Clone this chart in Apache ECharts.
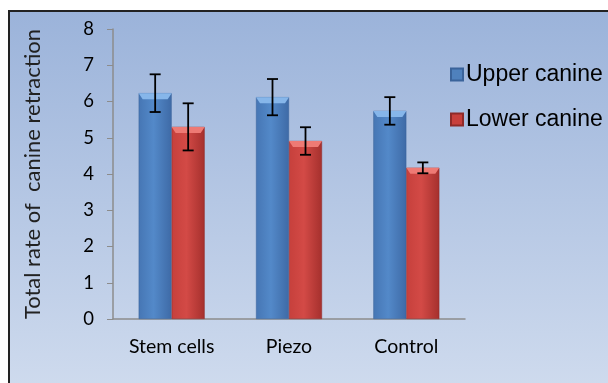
<!DOCTYPE html>
<html><head><meta charset="utf-8">
<script src="https://cdn.jsdelivr.net/npm/echarts@6/dist/echarts.min.js"></script>
<style>html,body{margin:0;padding:0;background:#fff;}#c{width:608px;height:383px;}</style>
</head><body><div id="c"></div>
<script>
const categories = ['Stem cells', 'Piezo', 'Control'];
const seriesNames = ['Upper canine', 'Lower canine'];
const upperValues = [6.23, 6.12, 5.74];
const lowerValues = [5.30, 4.91, 4.17];
const upperErrors = [0.52, 0.50, 0.38];
const lowerErrors = [0.65, 0.38, 0.15];
const yTicks = [0, 1, 2, 3, 4, 5, 6, 7, 8];

const chart = echarts.init(document.getElementById('c'));
const BW = 33;

function barGrad(c1, c2, c3) {
  return new echarts.graphic.LinearGradient(0, 0, 1, 0, [
    {offset: 0, color: c1}, {offset: 0.45, color: c2}, {offset: 1, color: c3}
  ]);
}
const blueFill = barGrad('#4676b4', '#5389c9', '#3e6aa6');
const redFill = barGrad('#c6403c', '#d34a46', '#a5302d');

function errorSeries(vals, errs, side) {
  return {
    type: 'custom',
    z: 5,
    silent: true,
    data: vals.map((v, i) => [i, v, errs[i]]),
    renderItem: function (params, api) {
      const i = api.value(0), v = api.value(1), e = api.value(2);
      const top = api.coord([i, v]);
      const cx = top[0] + side * BW / 2;
      const hi = api.coord([i, v + e])[1];
      const lo = api.coord([i, v - e])[1];
      const x0 = cx - BW / 2, x1 = cx + BW / 2;
      const capCol = side < 0 ? '#86b6ea' : '#ee7a74';
      return {
        type: 'group',
        children: [
          {type: 'polygon', shape: {points: [[x0, top[1]], [x1, top[1]], [x1 - 4, top[1] + 6], [x0 + 4, top[1] + 6]]},
           style: {fill: capCol}},
          {type: 'line', shape: {x1: cx, y1: hi, x2: cx, y2: lo}, style: {stroke: '#000', lineWidth: 1.8}},
          {type: 'line', shape: {x1: cx - 5.5, y1: hi, x2: cx + 5.5, y2: hi}, style: {stroke: '#000', lineWidth: 1.8}},
          {type: 'line', shape: {x1: cx - 5.5, y1: lo, x2: cx + 5.5, y2: lo}, style: {stroke: '#000', lineWidth: 1.8}}
        ]
      };
    }
  };
}

const option = {
  animation: false,
  graphic: [
    {type: 'rect', z: -10, shape: {x: 9, y: 11, width: 610, height: 380},
     style: {fill: new echarts.graphic.LinearGradient(0, 0, 0, 1, [
       {offset: 0, color: '#9bb3da'}, {offset: 1, color: '#cfdbee'}]), stroke: '#222', lineWidth: 2}}
  ],
  grid: {left: 113, right: 143, top: 29, bottom: 64},
  legend: {
    orient: 'vertical', left: 445, top: 58, itemGap: 22, itemWidth: 12, itemHeight: 12, icon: 'rect',
    textStyle: {fontFamily: 'Liberation Sans', fontSize: 23, color: '#000', padding: [0, 0, 0, -2]},
    data: seriesNames
  },
  xAxis: {
    type: 'category', data: categories,
    axisLine: {lineStyle: {color: '#8c8c8c', width: 1.5}},
    axisTick: {show: false},
    axisLabel: {fontFamily: 'Lato', fontSize: 19.5, color: '#000', margin: 18}
  },
  yAxis: {
    type: 'value', min: 0, max: 8, interval: 1,
    name: 'Total rate of  canine retraction', nameLocation: 'middle', nameRotate: 90, nameGap: 69,
    nameTextStyle: {fontFamily: 'Lato', fontSize: 22, color: '#222'},
    axisLine: {show: true, lineStyle: {color: '#8c8c8c', width: 1.5}},
    axisTick: {show: true, length: 6, lineStyle: {color: '#8c8c8c'}},
    splitLine: {show: false},
    axisLabel: {fontFamily: 'Lato', fontSize: 18.5, color: '#000', margin: 19,
      formatter: v => yTicks.includes(v) ? String(v) : ''}
  },
  series: [
    {name: seriesNames[0], type: 'bar', data: upperValues, barWidth: BW, barGap: '0%',
     itemStyle: {color: blueFill, borderColor: '#3a639a', borderWidth: 0.5}},
    {name: seriesNames[1], type: 'bar', data: lowerValues, barWidth: BW, barGap: '0%',
     itemStyle: {color: redFill, borderColor: '#8f2a28', borderWidth: 0.5}},
    errorSeries(upperValues, upperErrors, -1),
    errorSeries(lowerValues, lowerErrors, 1)
  ]
};
option.legend.data = [
  {name: seriesNames[0], itemStyle: {color: '#4f81bd'}},
  {name: seriesNames[1], itemStyle: {color: '#c8403c'}}
];
chart.setOption(option);
</script></body></html>
